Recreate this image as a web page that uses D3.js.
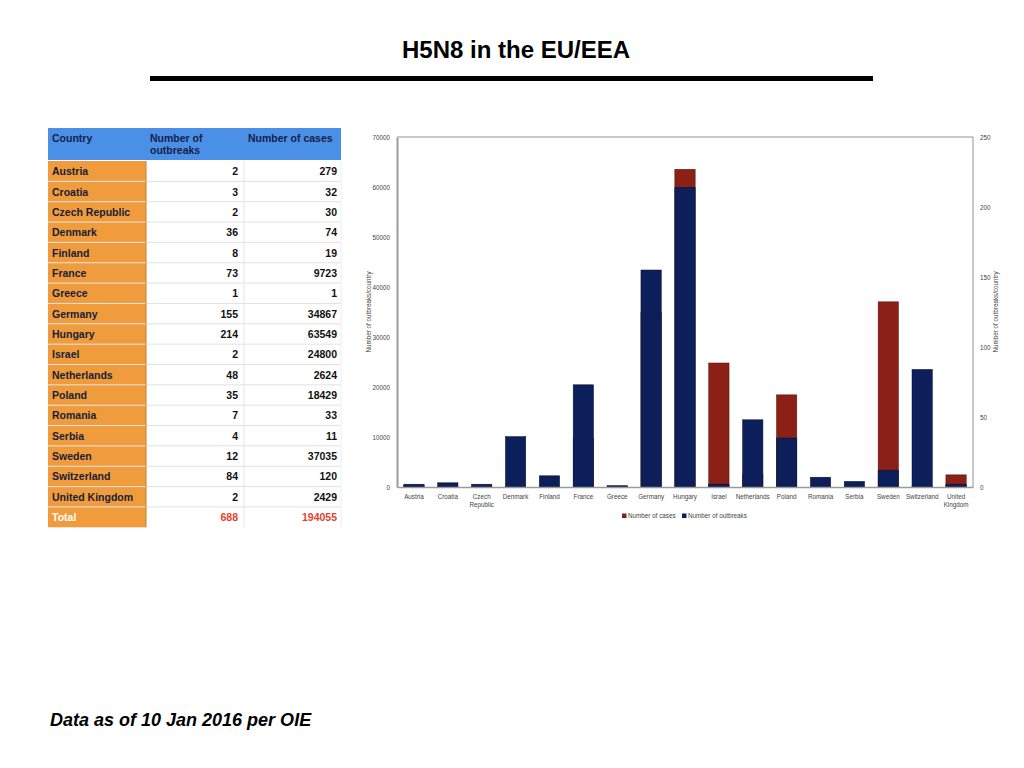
<!DOCTYPE html>
<html>
<head>
<meta charset="utf-8">
<script src="https://cdn.jsdelivr.net/npm/d3@7"></script>
<style>
  body { margin: 0; background: #fff; }
  svg { display: block; font-family: "Liberation Sans", Arial, sans-serif; }
</style>
</head>
<body>
<div id="chart"></div>
<script>
// data
var countries = ["Austria", "Croatia", "Czech Republic", "Denmark", "Finland", "France", "Greece",
  "Germany", "Hungary", "Israel", "Netherlands", "Poland", "Romania", "Serbia", "Sweden",
  "Switzerland", "United Kingdom"];
var outbreaks = [2, 3, 2, 36, 8, 73, 1, 155, 214, 2, 48, 35, 7, 4, 12, 84, 2];
var cases = [279, 32, 30, 74, 19, 9723, 1, 34867, 63549, 24800, 2624, 18429, 33, 11, 37035, 120, 2429];
var totalOutbreaks = 688;
var totalCases = 194055;
var casesTicks = [0, 10000, 20000, 30000, 40000, 50000, 60000, 70000];
var outbreakTicks = [0, 50, 100, 150, 200, 250];

var svg = d3.select("#chart").append("svg")
  .attr("width", 1024)
  .attr("height", 768);

// title and rule
svg.append("text")
  .attr("x", 516).attr("y", 58)
  .attr("text-anchor", "middle")
  .style("font-size", "24px").style("font-weight", "700")
  .text("H5N8 in the EU/EEA");

svg.append("rect")
  .attr("x", 150).attr("y", 76).attr("width", 723).attr("height", 5)
  .attr("fill", "#000");

// ---- table ----
var tbl = svg.append("g");
var colX = [48, 146, 244, 341];
var headTop = 128, headH = 32, rowTop = 161, rowH = 20.35;

tbl.append("rect").attr("x", colX[0]).attr("y", headTop)
  .attr("width", colX[3] - colX[0]).attr("height", headH).attr("fill", "#4a90e6");

var rows = countries.map(function(c, i) {
  return { name: c, o: outbreaks[i], c: cases[i], total: false };
});
rows.push({ name: "Total", o: totalOutbreaks, c: totalCases, total: true });

tbl.selectAll(".orange").data(rows).enter().append("rect")
  .attr("x", colX[0]).attr("y", (d, i) => rowTop + i * rowH)
  .attr("width", colX[1] - colX[0]).attr("height", rowH)
  .attr("fill", "#f09c3c");

// row separators
tbl.selectAll(".sep").data(rows.slice(1)).enter().append("line")
  .attr("x1", colX[0]).attr("x2", colX[3])
  .attr("y1", (d, i) => rowTop + (i + 1) * rowH)
  .attr("y2", (d, i) => rowTop + (i + 1) * rowH)
  .attr("stroke", "#e2e2e2").attr("stroke-width", 1);

tbl.append("line").attr("x1", colX[2]).attr("x2", colX[2])
  .attr("y1", rowTop).attr("y2", rowTop + rows.length * rowH)
  .attr("stroke", "#e6e6e6");
tbl.append("line").attr("x1", colX[3]).attr("x2", colX[3])
  .attr("y1", rowTop).attr("y2", rowTop + rows.length * rowH)
  .attr("stroke", "#eeeeee");
tbl.append("line").attr("x1", colX[1]).attr("x2", colX[1])
  .attr("y1", rowTop).attr("y2", rowTop + rows.length * rowH)
  .attr("stroke", "#c9822e");

// header text
var headStyle = function(s) {
  return s.style("font-size", "10.5px").style("font-weight", "700").attr("fill", "#16204a");
};
headStyle(tbl.append("text").attr("x", 52).attr("y", 142).text("Country"));
headStyle(tbl.append("text").attr("x", 150).attr("y", 142).text("Number of"));
headStyle(tbl.append("text").attr("x", 150).attr("y", 154).text("outbreaks"));
headStyle(tbl.append("text").attr("x", 248).attr("y", 142).text("Number of cases"));

var rowText = tbl.selectAll(".row").data(rows).enter().append("g")
  .attr("transform", (d, i) => `translate(0, ${rowTop + i * rowH + rowH / 2 + 4})`)
  .style("font-size", "10.5px").style("font-weight", "700");

rowText.append("text").attr("x", 52)
  .attr("fill", d => d.total ? "#fff" : "#16203a")
  .text(d => d.name);
rowText.append("text").attr("x", 238).attr("text-anchor", "end")
  .attr("fill", d => d.total ? "#e0442c" : "#111")
  .text(d => d.o);
rowText.append("text").attr("x", 337).attr("text-anchor", "end")
  .attr("fill", d => d.total ? "#e0442c" : "#111")
  .text(d => d.c);

// ---- chart ----
var plot = { left: 397, right: 973, top: 137, bottom: 487 };

var x = d3.scaleBand()
  .domain(countries)
  .range([plot.left, plot.right])
  .paddingInner(0.4)
  .paddingOuter(0.2);

var yCases = d3.scaleLinear().domain([0, 70000]).range([plot.bottom, plot.top]);
var yOut = d3.scaleLinear().domain([0, 250]).range([plot.bottom, plot.top]);

var casesColor = "#8a2016";
var outColor = "#0c1f5a";

// plot frame
svg.append("path")
  .attr("d", `M${plot.left},${plot.top}H${plot.right}V${plot.bottom}`)
  .attr("fill", "none").attr("stroke", "#777").attr("stroke-width", 0.8);

var chart = svg.append("g");

chart.selectAll(".cases").data(countries).enter().append("rect")
  .attr("x", d => x(d))
  .attr("width", x.bandwidth())
  .attr("y", (d, i) => yCases(cases[i]))
  .attr("height", (d, i) => plot.bottom - yCases(cases[i]))
  .attr("fill", casesColor)
  .attr("stroke", "#5a140e").attr("stroke-width", 0.5);

chart.selectAll(".outbreaks").data(countries).enter().append("rect")
  .attr("x", d => x(d))
  .attr("width", x.bandwidth())
  .attr("y", (d, i) => yOut(outbreaks[i]))
  .attr("height", (d, i) => plot.bottom - yOut(outbreaks[i]))
  .attr("fill", outColor)
  .attr("stroke", "#06102e").attr("stroke-width", 0.5);

// axes
var leftAxis = svg.append("g")
  .attr("transform", `translate(${plot.left},0)`)
  .call(d3.axisLeft(yCases).tickValues(casesTicks).tickSize(0).tickPadding(7).tickFormat(d3.format("d")));
leftAxis.select(".domain").attr("stroke", "#9a9a9a").attr("stroke-width", 2);
leftAxis.selectAll("text").style("font-size", "6.3px").attr("fill", "#444");

var rightAxis = svg.append("g")
  .attr("transform", `translate(${plot.right},0)`)
  .call(d3.axisRight(yOut).tickValues(outbreakTicks).tickSize(0).tickPadding(7));
rightAxis.select(".domain").remove();
rightAxis.selectAll("text").style("font-size", "6.3px").attr("fill", "#444");

var bottomAxis = svg.append("g")
  .attr("transform", `translate(0,${plot.bottom})`)
  .call(d3.axisBottom(x).tickSize(0).tickPadding(8));
bottomAxis.select(".domain").attr("stroke", "#9a9a9a").attr("stroke-width", 1.5);
bottomAxis.selectAll("text").style("font-size", "6.3px").attr("fill", "#444")
  .each(function(d) {
    var parts = d.split(" ");
    if (parts.length > 1) {
      var t = d3.select(this).text(null);
      parts.forEach(function(p, k) {
        t.append("tspan").attr("x", 0).attr("dy", k === 0 ? "0.71em" : "1.25em").text(p);
      });
    }
  });

// axis titles
svg.append("text")
  .attr("transform", "translate(371, 312) rotate(-90)")
  .attr("text-anchor", "middle")
  .style("font-size", "6.3px").attr("fill", "#444")
  .text("Number of outbreaks/country");
svg.append("text")
  .attr("transform", "translate(998, 312) rotate(-90)")
  .attr("text-anchor", "middle")
  .style("font-size", "6.3px").attr("fill", "#444")
  .text("Number of outbreaks/country");

// legend
var legend = svg.append("g").attr("transform", "translate(622, 516)");
var legItems = [{ label: "Number of cases", color: "#6e2a1a", dx: 0 },
                { label: "Number of outbreaks", color: outColor, dx: 60 }];
var li = legend.selectAll("g").data(legItems).enter().append("g")
  .attr("transform", d => `translate(${d.dx},0)`);
li.append("rect").attr("x", 0).attr("y", -2.5).attr("width", 4.5).attr("height", 4.5)
  .attr("fill", d => d.color);
li.append("text").attr("x", 6).attr("y", 2)
  .style("font-size", "6.3px").attr("fill", "#444")
  .text(d => d.label);

// footnote
svg.append("text")
  .attr("x", 50).attr("y", 726)
  .style("font-size", "18px").style("font-weight", "700").style("font-style", "italic")
  .text("Data as of 10 Jan 2016 per OIE");
</script>
</body>
</html>
